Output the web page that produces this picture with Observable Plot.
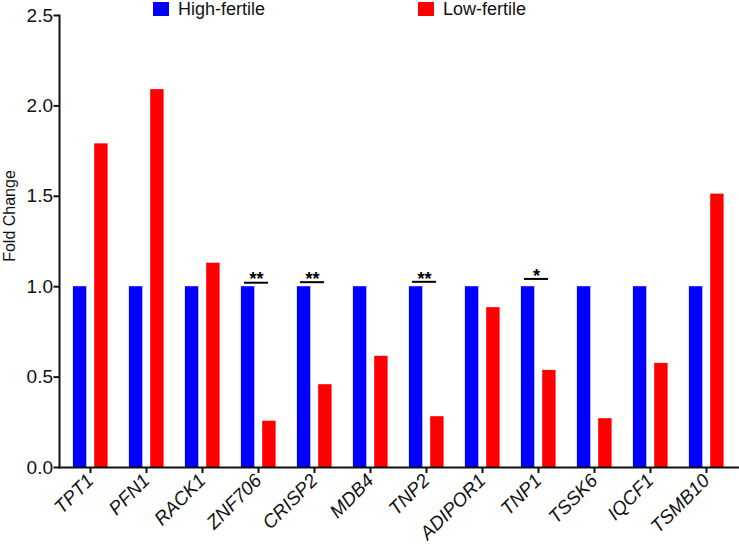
<!DOCTYPE html>
<html>
<head>
<meta charset="utf-8">
<script src="https://cdn.jsdelivr.net/npm/d3@7"></script>
<script src="https://cdn.jsdelivr.net/npm/@observablehq/plot@0.6"></script>
<style>
  html, body { margin: 0; padding: 0; background: white; }
  #wrap { position: relative; width: 739px; height: 552px; font-family: "Liberation Sans", Arial, sans-serif; }
  .lg { position: absolute; top: 0; height: 18px; line-height: 18px; display: flex; align-items: center; font-size: 18px; color: #111; white-space: nowrap; }
  .sw { width: 16px; height: 14px; margin-right: 9px; margin-top: -1px; }
  #ylab { position: absolute; left: 10px; top: 216px; font-size: 16px; color: #111; white-space: nowrap;
          transform: translate(-50%, -50%) rotate(-90deg); }
</style>
</head>
<body>
<div id="wrap">
  <div class="lg" style="left:153px"><div class="sw" style="background:#0000ff"></div><span>High-fertile</span></div>
  <div class="lg" style="left:418px"><div class="sw" style="background:#ff0000"></div><span>Low-fertile</span></div>
  <div id="ylab">Fold Change</div>
</div>
<script>
const genes = ["TPT1", "PFN1", "RACK1", "ZNF706", "CRISP2", "MDB4", "TNP2", "ADIPOR1", "TNP1", "TSSK6", "IQCF1", "TSMB10"];
const highFertile = [1, 1, 1, 1, 1, 1, 1, 1, 1, 1, 1, 1];
const lowFertile = [1.79, 2.09, 1.13, 0.256, 0.458, 0.615, 0.281, 0.884, 0.537, 0.27, 0.576, 1.512];
const yTicks = [0, 0.5, 1.0, 1.5, 2.0, 2.5];
const sigGenes = ["ZNF706", "CRISP2", "TNP2", "TNP1"];
const sigLabels = ["**", "**", "**", "*"];
const sigLevel = [1.022, 1.025, 1.027, 1.043];

const data = genes.map((g, i) => ({gene: g, high: highFertile[i], low: lowFertile[i]}));
const sig = sigGenes.map((g, i) => ({gene: g, label: sigLabels[i], level: sigLevel[i]}));

const chart = Plot.plot({
  width: 739,
  height: 552,
  marginTop: 15,
  marginBottom: 85,
  marginLeft: 59,
  marginRight: 0,
  style: {fontFamily: "'Liberation Sans', Arial, sans-serif", fontSize: "19px", color: "#111", background: "transparent"},
  x: {domain: genes, range: [56, 739], padding: 0},
  y: {domain: [0, 2.5]},
  marks: [
    Plot.barY(data, {x: "gene", y: "high", fill: "#0000ff", insetLeft: 10.9, insetRight: 31.7}),
    Plot.barY(data, {x: "gene", y: "low", fill: "#ff0000", insetLeft: 32.2, insetRight: 10.4}),
    Plot.tickY(sig, {x: "gene", y: "level", stroke: "black", strokeWidth: 2, insetLeft: 14, insetRight: 18}),
    Plot.text(sig, {x: "gene", y: "level", text: "label", dx: -2, dy: -3, fontSize: 18, fontWeight: "bold", fill: "black"}),
    Plot.axisY({ticks: yTicks, tickFormat: d3.format(".1f"), tickSize: 5.5, tickPadding: 1, strokeWidth: 2, label: null, fontSize: 19}),
    Plot.axisX({tickRotate: -45, tickSize: 6, tickPadding: 4, strokeWidth: 2, label: null, fontSize: 19, fontStyle: "italic"}),
    Plot.frame({anchor: "left", strokeWidth: 2}),
    Plot.frame({anchor: "bottom", strokeWidth: 2})
  ]
});
chart.style.position = "absolute";
chart.style.left = "0px";
chart.style.top = "0px";
document.getElementById("wrap").prepend(chart);
</script>
</body>
</html>
